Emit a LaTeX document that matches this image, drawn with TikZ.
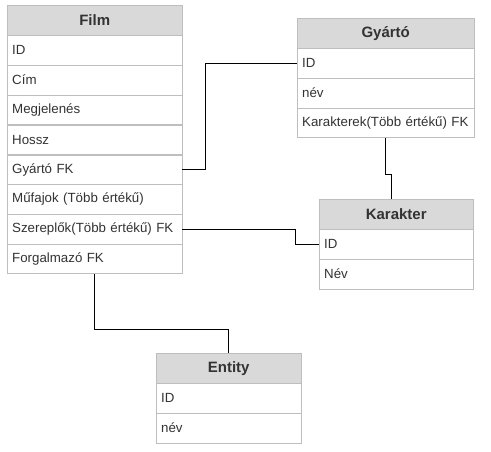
\documentclass[tikz,border=0pt]{standalone}
\usepackage{fontspec}
\setmainfont{Liberation Sans}
\usetikzlibrary{positioning}
\definecolor{hdrgray}{RGB}{217,217,217}
\definecolor{linegray}{RGB}{190,190,190}
\definecolor{txtgray}{RGB}{51,51,51}

\begin{document}
\begin{tikzpicture}
[x=1pt,y=-1pt,node distance=0pt,font=\fontsize{13.3}{15}\selectfont,text=txtgray]
\tikzstyle{hdr}=[rectangle, draw=linegray, fill=hdrgray, minimum height=30pt, font=\fontsize{15}{17}\selectfont\bfseries, inner sep=0pt]
\tikzstyle{row}=[rectangle, draw=linegray, fill=white, minimum height=29.4pt, inner xsep=5pt, inner ysep=0pt, align=left]
\tikzstyle{link}=[draw=black, line width=0.8pt]

\useasboundingbox (0,0) rectangle (491,451);

% Film
\node[hdr, minimum width=175pt, anchor=north west] (fh) at (7,5) {Film};
\node[row, text width=165pt] (f1) [below=of fh] {ID};
\node[row, text width=165pt] (f2) [below=of f1] {Cím};
\node[row, text width=165pt] (f3) [below=of f2] {Megjelenés};
\node[row, text width=165pt] (f4) [below=of f3] {Hossz};
\node[row, text width=165pt] (f5) [below=of f4] {Gyártó FK};
\node[row, text width=165pt] (f6) [below=of f5] {Műfajok (Több értékű)};
\node[row, text width=165pt] (f7) [below=of f6] {Szereplők(Több értékű) FK};
\node[row, text width=165pt] (f8) [below=of f7] {Forgalmazó FK};

% Gyarto
\node[hdr, minimum width=177pt, anchor=north west] (gh) at (297,18) {Gyártó};
\node[row, text width=167pt] (g1) [below=of gh] {ID};
\node[row, text width=167pt] (g2) [below=of g1] {név};
\node[row, text width=167pt] (g3) [below=of g2] {Karakterek(Több értékű) FK};

% Karakter
\node[hdr, minimum width=154pt, anchor=north west] (kh) at (319,199) {Karakter};
\node[row, text width=144pt] (k1) [below=of kh] {ID};
\node[row, text width=144pt] (k2) [below=of k1] {Név};

% Entity
\node[hdr, minimum width=145pt, anchor=north west] (eh) at (156,353) {Entity};
\node[row, text width=135pt] (e1) [below=of eh] {ID};
\node[row, text width=135pt] (e2) [below=of e1] {név};

\draw[link] (f5.east) -- ([xshift=23pt]f5.east) |- (g1.west);
\draw[link] (f7.east) -| ([xshift=-24pt]k1.west) -- (k1.west);
\draw[link] (g3.south) -- ++(0,37) -| ([xshift=-5pt]kh.north);
\draw[link] (f8.south) -- ++(0,56) -| (eh.north);
\end{tikzpicture}
\end{document}
